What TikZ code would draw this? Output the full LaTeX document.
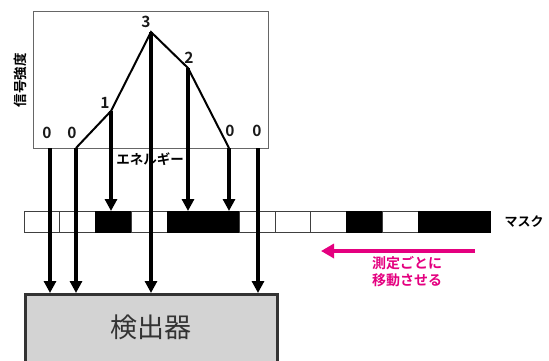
\documentclass[tikz,border=0pt]{standalone}
\usepackage{fontspec}
\newfontfamily\jp{Noto Sans CJK JP}
\newfontfamily\jpb{Noto Sans CJK JP Bold}
\usetikzlibrary{arrows.meta}
\definecolor{pinkc}{HTML}{E4007F}
\definecolor{detfill}{HTML}{D3D3D3}
\definecolor{dark}{HTML}{333333}
\begin{document}
\begin{tikzpicture}[x=1pt,y=-1pt,
  beam/.style={line width=4pt,black},
  beamarrow/.style={beam,-{Triangle[width=12pt,length=12pt]}},
  cell/.style={line width=0.8pt,minimum width=35.85pt,minimum height=21pt,inner sep=0pt,outer sep=0pt},
  digit/.style={font=\jpb\fontsize{15.5}{18}\selectfont,text=black!90,inner sep=0pt},
  lbl/.style={font=\jpb\fontsize{13}{16}\selectfont,inner sep=0pt}]
\useasboundingbox (0,0) rectangle (549,360);
% spectrum box
\node[draw=black!60,line width=0.9pt,minimum width=235pt,minimum height=137pt,inner sep=0pt,anchor=north west] (spec) at (33,11) {};
\node[lbl,rotate=90,font=\jpb\fontsize{13.5}{16}\selectfont] (ylab) at (20,80) {信号強度};
\node[lbl,font=\jpb\fontsize{13.5}{16}\selectfont] (xlab) at (150,159) {エネルギー};
% points
\coordinate (b0a) at (50,148);
\coordinate (b0b) at (76,148);
\coordinate (p1) at (111,111);
\coordinate (p3) at (151,32);
\coordinate (p2) at (188,68);
\coordinate (b0c) at (229,148);
\coordinate (b0d) at (258,148);
\draw[line width=2pt,line join=miter] (b0b) -- (p1) -- (p3) -- (p2) -- (b0c);
% digit labels
\node[digit] (l0a) at (47,133) {0};
\node[digit] (l0b) at (72,133) {0};
\node[digit] (l1) at (105,103) {1};
\node[digit] (l3) at (146,22) {3};
\node[digit] (l2) at (189,58) {2};
\node[digit] (l0c) at (230,131) {0};
\node[digit] (l0d) at (257,131) {0};
% mask
\foreach \i/\f/\d in {1/white/black!75,2/white/black!75,3/black/black,4/white/black!75,5/black/black,6/black/black,7/white/black!75,8/white/black!75,9/white/black!75,10/black/black,11/white/black!75,12/black/black,13/black/black}{
  \node[cell,fill=\f,draw=\d] (c\i) at ({24+35.85*(\i-0.5)},221.5) {};
}
\node[lbl] (mask) at (524,222) {マスク};
% detector
\node[draw=dark,fill=detfill,line width=2.5pt,minimum width=252pt,minimum height=80pt,inner sep=0pt,anchor=north west] (det) at (24,293) {};
\node[font=\jp\fontsize{27}{30}\selectfont,text=dark,inner sep=0pt] (detlab) at (151,327) {検出器};
% mask-top and detector-top points
\coordinate (m1) at (111,211);
\coordinate (m2) at (188,211);
\coordinate (m0c) at (229,211);
\coordinate (d0a) at (50,293);
\coordinate (d0b) at (76,293);
\coordinate (d3) at (151,293);
\coordinate (d0d) at (258,293);
\draw[beamarrow] (b0a) -- (d0a);
\draw[beamarrow] (b0b) -- (d0b);
\draw[beamarrow] (p3) -- (d3);
\draw[beamarrow] (b0d) -- (d0d);
\draw[beamarrow] (p1) -- (m1);
\draw[beamarrow] (p2) -- (m2);
\draw[beamarrow] (b0c) -- (m0c);
% movement arrow
\coordinate (ms) at (475,251);
\coordinate (me) at (321,251);
\draw[line width=4pt,pinkc,-{Triangle[width=14pt,length=13pt]}] (ms) -- (me);
\node[lbl,text=pinkc,font=\jpb\fontsize{14}{17}\selectfont,align=center] (move) at (407,271.5) {測定ごとに\\移動させる};
\end{tikzpicture}
\end{document}
